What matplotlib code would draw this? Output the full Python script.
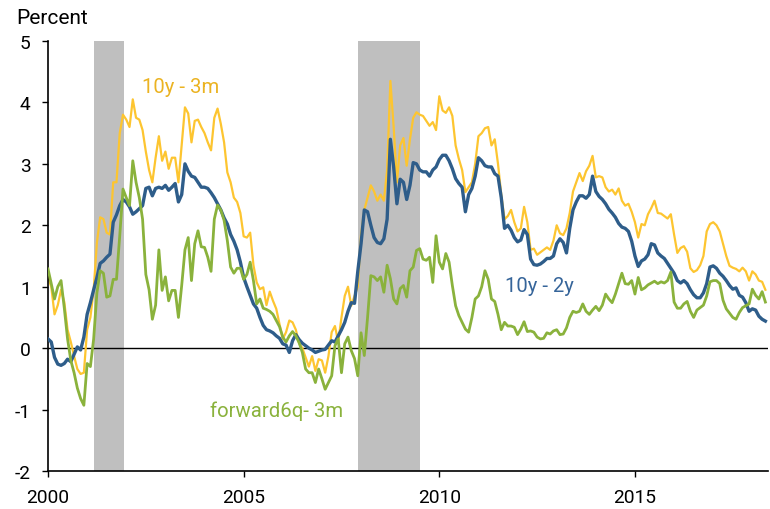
import numpy as np
import matplotlib
matplotlib.use("Agg")
import matplotlib.pyplot as plt

plt.rcParams['font.family'] = ['Roboto', 'DejaVu Sans']
plt.rcParams['axes.unicode_minus'] = False

# monthly spreads, Jan 2000 .. May 2018 (percent)
spread_10y3m = [
    1.15, 1.0, 0.55, 0.7, 0.95, 0.75, 0.3, 0.1, -0.13, -0.34, -0.42, -0.4,
    0.3, 0.5, 0.95, 1.72, 2.13, 2.1, 1.88, 1.85, 2.7, 2.7, 3.5, 3.8,
    3.72, 3.6, 4.05, 3.75, 3.72, 3.55, 3.2, 2.9, 2.7, 3.1, 3.45, 3.05,
    3.2, 2.92, 3.1, 3.1, 2.7, 3.3, 3.92, 3.82, 3.35, 3.7, 3.72, 3.6,
    3.5, 3.35, 3.22, 3.75, 3.9, 3.65, 3.35, 2.86, 2.7, 2.45, 2.38, 2.2,
    1.82, 1.8, 1.88, 1.35, 1.07, 0.96, 0.99, 0.7, 0.92, 0.77, 0.64, 0.39,
    0.15, 0.26, 0.45, 0.42, 0.3, 0.08, 0.0, -0.15, -0.3, -0.13, -0.37, -0.18,
    -0.2, -0.4, -0.13, 0.26, 0.36, 0.1, 0.5, 0.85, 1.0, 0.69, 0.85, 1.0,
    1.85, 2.25, 2.45, 2.65, 2.55, 2.4, 2.5, 2.4, 2.9, 4.35, 3.6, 2.7,
    3.3, 3.42, 2.97, 3.4, 3.75, 3.84, 3.8, 3.78, 3.7, 3.62, 3.68, 3.55,
    4.1, 3.87, 3.83, 3.92, 3.78, 3.3, 3.08, 2.9, 2.54, 2.62, 2.7, 3.0,
    3.45, 3.5, 3.58, 3.6, 3.3, 3.4, 3.0, 2.5, 2.1, 2.15, 2.25, 2.05,
    1.9, 1.95, 2.3, 2.05, 1.6, 1.62, 1.52, 1.56, 1.6, 1.64, 1.6, 1.75,
    2.0, 1.87, 1.84, 1.95, 2.2, 2.55, 2.7, 2.85, 2.72, 2.88, 2.97, 3.13,
    2.78, 2.8, 2.78, 2.62, 2.55, 2.58, 2.5, 2.6, 2.4, 2.32, 2.35, 2.22,
    2.05, 1.8, 2.02, 2.0, 2.18, 2.28, 2.4, 2.2, 2.19, 2.15, 2.11, 2.18,
    1.85, 1.55, 1.63, 1.66, 1.57, 1.3, 1.24, 1.27, 1.35, 1.5, 1.9, 2.02,
    2.05, 2.0, 1.9, 1.7, 1.5, 1.34, 1.31, 1.29, 1.25, 1.31, 1.25, 1.1,
    1.25, 1.2, 1.1, 1.08, 0.95,
]

spread_10y2y = [
    0.15, 0.1, -0.15, -0.26, -0.28, -0.25, -0.18, -0.22, -0.1, 0.02, -0.03, 0.18,
    0.55, 0.74, 0.95, 1.15, 1.38, 1.42, 1.48, 1.53, 2.05, 2.17, 2.32, 2.42,
    2.38, 2.3, 2.18, 2.22, 2.27, 2.32, 2.6, 2.62, 2.48, 2.6, 2.62, 2.6,
    2.65, 2.57, 2.62, 2.68, 2.38, 2.5, 3.0, 2.88, 2.8, 2.78, 2.7, 2.62,
    2.62, 2.6, 2.53, 2.45, 2.35, 2.25, 2.12, 2.02, 1.85, 1.74, 1.6, 1.4,
    1.15, 1.0, 0.86, 0.72, 0.65, 0.5, 0.37, 0.3, 0.28, 0.25, 0.2, 0.16,
    0.07, 0.05, -0.07, 0.12, 0.22, 0.14, 0.08, 0.04, 0.0, -0.03, -0.07, -0.05,
    -0.03, -0.02, 0.05, 0.12, 0.1, 0.2, 0.3, 0.42, 0.6, 0.74, 0.73, 1.25,
    1.7, 2.25, 2.22, 2.0, 1.8, 1.72, 1.7, 1.78, 2.1, 3.4, 2.95, 2.35,
    2.75, 2.7, 2.42, 2.65, 3.02, 3.0, 2.9, 2.87, 2.87, 2.8, 2.9, 2.95,
    3.07, 3.14, 3.14, 3.05, 2.92, 2.76, 2.68, 2.62, 2.22, 2.5, 2.6, 2.8,
    3.1, 3.05, 2.97, 2.95, 2.95, 2.84, 2.8, 2.45, 1.95, 2.0, 1.92, 1.8,
    1.73, 1.76, 1.93, 1.85, 1.45, 1.36, 1.35, 1.37, 1.41, 1.46, 1.46, 1.5,
    1.7, 1.78, 1.72, 1.55, 1.95, 2.25, 2.38, 2.48, 2.48, 2.44, 2.5, 2.8,
    2.55, 2.47, 2.42, 2.35, 2.26, 2.2, 2.13, 2.03, 1.97, 1.95, 1.9, 1.74,
    1.5, 1.33, 1.42, 1.45, 1.52, 1.7, 1.68, 1.55, 1.5, 1.46, 1.38, 1.3,
    1.22, 1.1, 1.06, 1.1, 1.05, 0.95, 0.87, 0.82, 0.82, 0.9, 1.05, 1.32,
    1.34, 1.3, 1.22, 1.17, 1.1, 1.02, 0.96, 0.98, 0.86, 0.83, 0.74, 0.6,
    0.64, 0.62, 0.52, 0.47, 0.44,
]

spread_fwd6q = [
    1.29, 1.05, 0.8, 1.0, 1.1, 0.65, 0.15, -0.2, -0.4, -0.65, -0.82, -0.93,
    -0.25, -0.3, 0.15, 0.9, 1.26, 1.22, 0.83, 0.85, 1.12, 1.12, 1.83, 2.59,
    2.45, 2.32, 3.05, 2.7, 2.45, 2.1, 1.2, 0.95, 0.47, 0.7, 1.6, 0.94,
    1.16, 0.77, 0.94, 0.94, 0.5, 1.02, 1.6, 1.8, 1.1, 1.7, 1.91, 1.65,
    1.64, 1.48, 1.25, 2.1, 2.33, 2.25, 2.08, 1.75, 1.32, 1.22, 1.3, 1.3,
    1.12, 1.2, 1.4, 1.1, 0.72, 0.8, 0.65, 0.63, 0.6, 0.55, 0.45, 0.35,
    0.18, 0.1, 0.2, 0.27, 0.2, 0.09, -0.07, -0.34, -0.4, -0.4, -0.56, -0.34,
    -0.5, -0.67, -0.56, -0.45, 0.04, 0.15, -0.4, 0.07, 0.18, -0.04, -0.17, -0.45,
    0.25, -0.12, 0.5, 1.18, 1.16, 1.1, 1.16, 0.91, 1.35, 1.13, 0.8, 0.72,
    0.97, 1.02, 0.83, 1.26, 1.32, 1.59, 1.62, 1.45, 1.43, 1.48, 1.07, 1.83,
    1.4, 1.29, 1.54, 1.4, 1.02, 0.69, 0.53, 0.42, 0.31, 0.26, 0.5, 0.8,
    0.85, 1.0, 1.26, 1.12, 0.8, 0.76, 0.55, 0.3, 0.42, 0.36, 0.36, 0.34,
    0.22, 0.31, 0.43, 0.27, 0.28, 0.26, 0.18, 0.15, 0.16, 0.25, 0.23, 0.28,
    0.3, 0.22, 0.23, 0.33, 0.5, 0.6, 0.58, 0.6, 0.72, 0.6, 0.55, 0.62,
    0.68, 0.61, 0.7, 0.88, 0.8, 0.74, 0.88, 1.05, 1.22, 1.05, 1.04, 1.1,
    0.88, 1.15, 0.95, 0.98, 1.03, 1.06, 1.09, 1.05, 1.08, 1.06, 1.1, 1.24,
    0.75, 0.65, 0.65, 0.72, 0.76, 0.6, 0.5, 0.62, 0.66, 0.7, 0.85, 1.08,
    1.1, 1.1, 1.05, 0.78, 0.64, 0.57, 0.5, 0.47, 0.58, 0.66, 0.69, 0.72,
    0.96, 0.86, 0.8, 0.92, 0.75,
]

recessions = [(2001.17, 2001.93), (2007.92, 2009.5)]
year_ticks = [2000, 2005, 2010, 2015]

YELLOW = '#FDC530'
BLUE = '#2E5D8A'
GREEN = '#8AB23C'


def make_plot():
    months = np.arange(len(spread_10y2y))
    years = 2000 + months / 12.0

    fig = plt.figure(figsize=(7.7, 5.1), dpi=100)
    ax = fig.add_axes([48 / 770, 38 / 510, 720 / 770, 430 / 510])

    for start, end in recessions:
        ax.axvspan(start, end, color='#BFBFBF', lw=0, zorder=0)
    ax.axhline(0, color='black', lw=1, zorder=1)

    ax.plot(years, spread_10y3m, color=YELLOW, lw=1.6, zorder=2)
    ax.plot(years, spread_10y2y, color=BLUE, lw=2.4, zorder=3)
    ax.plot(years, spread_fwd6q, color=GREEN, lw=2.0, zorder=4)

    ax.set_xlim(2000, 2018.4)
    ax.set_ylim(-2, 5)
    ax.set_xticks(year_ticks)
    ax.set_xticklabels([str(y) for y in year_ticks])
    ax.set_yticks(range(-2, 6))
    ax.set_yticklabels([str(v) for v in range(-2, 6)])
    ax.tick_params(labelsize=13.8, length=4.5, width=1, pad=8, colors='black')

    for side in ['top', 'right']:
        ax.spines[side].set_visible(False)
    for side in ['left', 'bottom']:
        ax.spines[side].set_linewidth(1.2)

    ax.text(2002.40, 4.17, '10y - 3m', color='#EBB322', fontsize=14.6,
            ha='left', va='baseline')
    ax.text(2011.69, 0.93, '10y - 2y', color='#36659A', fontsize=14.6,
            ha='left', va='baseline')
    ax.text(2004.14, -1.10, 'forward6q- 3m', color=GREEN, fontsize=14.6,
            ha='left', va='baseline')

    fig.text(16 / 770, 1 - 24 / 510, 'Percent', fontsize=15,
             ha='left', va='baseline')

    fig.savefig('out.png', dpi=100)


make_plot()
